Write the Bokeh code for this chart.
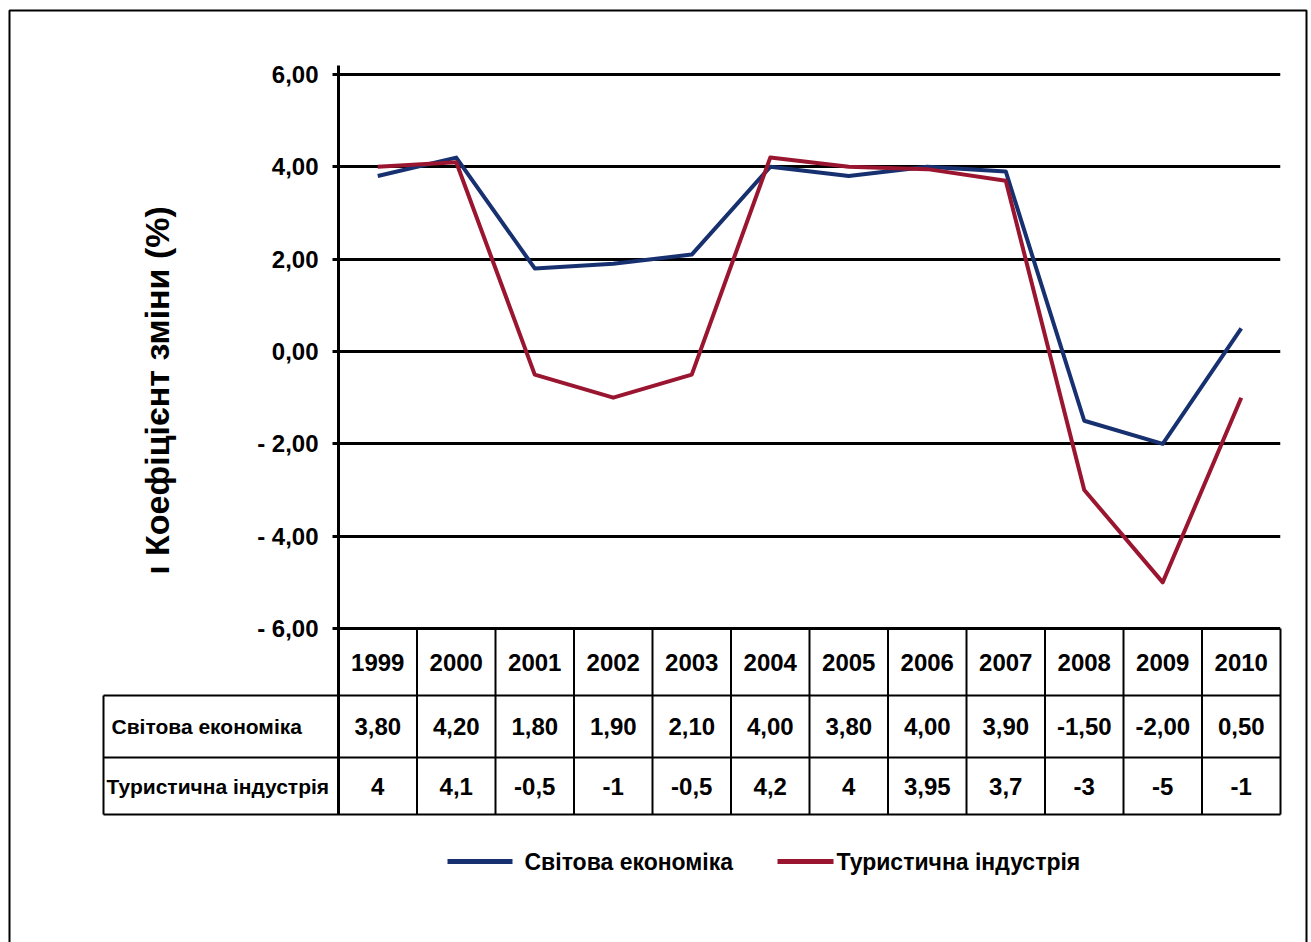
import math

from bokeh.core.properties import value
from bokeh.embed import file_html
from bokeh.models import FixedTicker
from bokeh.plotting import figure
from bokeh.resources import INLINE

# ---- data -------------------------------------------------------------
years = ["1999", "2000", "2001", "2002", "2003", "2004",
         "2005", "2006", "2007", "2008", "2009", "2010"]
world_economy = [3.80, 4.20, 1.80, 1.90, 2.10, 4.00, 3.80, 4.00, 3.90, -1.50, -2.00, 0.50]
tourism = [4, 4.1, -0.5, -1, -0.5, 4.2, 4, 3.95, 3.7, -3, -5, -1]
series_names = ["Світова економіка", "Туристична індустрія"]
y_ticks = [-6, -4, -2, 0, 2, 4, 6]
y_title = "ı Коефіцієнт зміни (%)"

# ---- page geometry (pixels) ------------------------------------------
W, H = 1311, 942
FL, FR, FT, FB = 338, 1280, 65, 814          # plot frame
Y_TOP_TICK_PX, Y_BOT_TICK_PX = 74, 628        # where 6 and -6 sit
ROW_LINES_PX = [695, 757, 814]                # table row boundaries
TABLE_LEFT_PX = 103

n = len(years)
idx = list(range(n))
ppu_x = (FR - FL) / n
ppu_y = (Y_BOT_TICK_PX - Y_TOP_TICK_PX) / (y_ticks[-1] - y_ticks[0])
y_lo = y_ticks[0] - (FB - Y_BOT_TICK_PX) / ppu_y
y_hi = y_ticks[-1] + (Y_TOP_TICK_PX - FT) / ppu_y


def xd(px):
    return -0.5 + (px - FL) / ppu_x


def yd(py):
    return y_ticks[0] - (py - Y_BOT_TICK_PX) / ppu_y


FONT = "Liberation Sans"
BLUE = "#17306f"
RED = "#9a1630"


def fmt_axis(v):
    s = f"{abs(v):.2f}".replace(".", ",")
    return f"- {s}" if v < 0 else s


def fmt_world(v):
    return f"{v:.2f}".replace(".", ",")


def fmt_tour(v):
    return ("%g" % v).replace(".", ",")


p = figure(width=W, height=H, x_range=(-0.5, n - 0.5), y_range=(y_lo, y_hi),
           output_backend="svg", toolbar_location=None, x_axis_location=None,
           min_border_left=FL, min_border_right=W - FR,
           min_border_top=FT, min_border_bottom=H - FB)
p.outline_line_color = None
p.background_fill_color = "white"
p.border_fill_color = "white"
p.xgrid.visible = False

# horizontal grid at the tick values
p.ygrid.ticker = FixedTicker(ticks=y_ticks)
p.ygrid.grid_line_color = "black"
p.ygrid.grid_line_width = 3

ax = p.yaxis[0]
ax.ticker = FixedTicker(ticks=y_ticks)
ax.major_label_overrides = {t: fmt_axis(t) for t in y_ticks}
ax.axis_line_width = 3
ax.axis_line_color = "black"
ax.major_tick_line_width = 3
ax.major_tick_out = 6
ax.major_tick_in = 0
ax.minor_tick_out = 0
ax.minor_tick_in = 0
ax.major_label_standoff = 14
ax.major_label_text_font = FONT
ax.major_label_text_font_style = "bold"
ax.major_label_text_font_size = "24px"
ax.major_label_text_color = "black"

# series lines
r_world = p.line(idx, world_economy, line_color=BLUE, line_width=4, line_join="round")
r_tour = p.line(idx, tourism, line_color=RED, line_width=4, line_join="round")

# ---- data table under the plot ---------------------------------------
row_y = [yd(py) for py in ROW_LINES_PX]
x_left = xd(TABLE_LEFT_PX)
x_right = n - 0.5

p.segment([x_left] * len(row_y), row_y, [x_right] * len(row_y), row_y,
          line_color="black", line_width=2, level="overlay")

v_x = [k + 0.5 for k in range(n)]
p.segment(v_x, [y_ticks[0]] * n, v_x, [row_y[-1]] * n,
          line_color="black", line_width=2, level="overlay")
p.segment([x_left], [row_y[0]], [x_left], [row_y[-1]],
          line_color="black", line_width=2, level="overlay")

year_y = (y_ticks[0] + row_y[0]) / 2
world_y = (row_y[0] + row_y[1]) / 2
tour_y = (row_y[1] + row_y[2]) / 2

cell_style = dict(text_font=value(FONT), text_font_style="bold",
                  text_align="center", text_baseline="middle",
                  text_color="black", level="overlay", text_font_size="24px")
p.text(idx, [year_y] * n, text=years, **cell_style)
p.text(idx, [world_y] * n, text=[fmt_world(v) for v in world_economy], **cell_style)
p.text(idx, [tour_y] * n, text=[fmt_tour(v) for v in tourism], **cell_style)

p.text([xd(111), xd(106)], [world_y, tour_y], text=series_names,
       text_font=value(FONT), text_font_style="bold", text_font_size="21px",
       text_align="left", text_baseline="middle", text_color="black", level="overlay")

# outer frame around the whole figure
p.multi_line([[xd(9), xd(9), xd(1306), xd(1306)]],
             [[yd(960), yd(10), yd(10), yd(960)]],
             line_color="black", line_width=2, level="overlay")

# y axis title, rotated
p.text([xd(156)], [yd(390)], text=[y_title], angle=math.pi / 2,
       text_align="center", text_baseline="alphabetic",
       text_font=value(FONT), text_font_style="bold", text_font_size="34px",
       text_color="black", level="overlay")

# legend: colour swatch followed by the series name
leg_y = yd(861)
sw_x0 = [xd(447), xd(777)]
sw_x1 = [xd(512), xd(833)]
p.segment(sw_x0, [leg_y] * 2, sw_x1, [leg_y] * 2,
          line_color=[BLUE, RED], line_width=5, level="overlay")
p.text([xd(524), xd(836)], [leg_y] * 2, text=series_names,
       text_font=value(FONT), text_font_style="bold", text_font_size="23px",
       text_align="left", text_baseline="middle", text_color="black", level="overlay")

open("out.html", "w").write(file_html(p, INLINE))
